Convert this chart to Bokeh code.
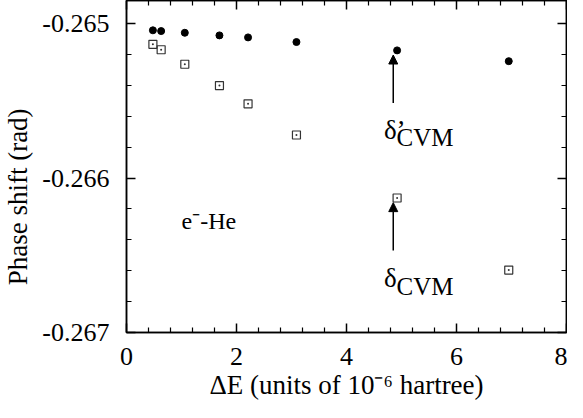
from bokeh.plotting import figure
from bokeh.models import (LinearAxis, FixedTicker, PrintfTickFormatter, Label,
                          Arrow, NormalHead, ColumnDataSource,
                          CustomJSTickFormatter)
from bokeh.embed import file_html
from bokeh.resources import INLINE

# ---- data ----
delta_E = [0.48, 0.63, 1.06, 1.69, 2.21, 3.09, 4.92, 6.95]
phase_cvm_prime = [-0.265043, -0.265048, -0.265059, -0.265076, -0.265089,
                   -0.265119, -0.265173, -0.265243]
phase_cvm = [-0.265134, -0.265169, -0.265263, -0.265401, -0.265519,
             -0.265721, -0.266129, -0.266596]

x_major = [0, 2, 4, 6, 8]
x_minor = [0.4, 0.8, 1.2, 1.6, 2.4, 2.8, 3.2, 3.6, 4.4, 4.8, 5.2, 5.6,
           6.4, 6.8, 7.2, 7.6]
y_major = [-0.267, -0.266, -0.265]
y_minor = [-0.2668, -0.2666, -0.2664, -0.2662, -0.2658, -0.2656, -0.2654,
           -0.2652, -0.2648]

x_title = "ΔE (units of 10⁻⁶ hartree)"
y_title = "Phase shift (rad)"
# trailing no-break spaces shift the centred vertical title toward the bottom
y_title_padded = y_title + "\u00a0" * 9

FONT = "Liberation Serif"

p = figure(width=567, height=402, output_backend="svg", toolbar_location=None,
           x_range=(0, 8), y_range=(-0.267, -0.26485),
           min_border_left=121, min_border_right=1, min_border_top=0,
           min_border_bottom=0)
p.xgrid.visible = False
p.ygrid.visible = False
p.outline_line_color = "black"
p.outline_line_width = 1.5
p.background_fill_color = "white"
p.border_fill_color = "white"

src_p = ColumnDataSource(dict(x=delta_E, y=phase_cvm_prime))
src_c = ColumnDataSource(dict(x=delta_E, y=phase_cvm))
p.scatter("x", "y", source=src_p, marker="circle", size=7,
          fill_color="black", line_color="black")
p.scatter("x", "y", source=src_c, marker="square_dot", size=8,
          fill_color=None, line_color="#333333", line_width=1.2)


def style_axis(ax, show_labels):
    ax.axis_line_color = "black"
    ax.axis_line_width = 1.5
    ax.major_tick_line_color = "black"
    ax.major_tick_line_width = 1.5
    ax.minor_tick_line_color = "black"
    ax.minor_tick_line_width = 1.2
    ax.major_tick_in = 9
    ax.major_tick_out = 0
    ax.minor_tick_in = 5
    ax.minor_tick_out = 0
    if show_labels:
        ax.major_label_text_font = FONT
        ax.major_label_text_font_size = "26px"
        ax.major_label_text_color = "black"
        ax.axis_label_text_font = FONT
        ax.axis_label_text_font_size = "27px"
        ax.axis_label_text_font_style = "normal"
        ax.axis_label_text_color = "black"
    else:
        ax.axis_label = None
        ax.formatter = CustomJSTickFormatter(code="return ''")
        ax.major_label_standoff = 0


xa = p.xaxis[0]
xa.ticker = FixedTicker(ticks=x_major, minor_ticks=x_minor)
xa.axis_label = x_title
xa.major_label_standoff = 15
xa.axis_label_standoff = 2
style_axis(xa, True)

ya = p.yaxis[0]
ya.ticker = FixedTicker(ticks=y_major, minor_ticks=y_minor)
ya.formatter = PrintfTickFormatter(format="%.3f")
ya.axis_label = y_title_padded
ya.major_label_standoff = 17
ya.axis_label_standoff = 6
style_axis(ya, True)

top_ax = LinearAxis(ticker=FixedTicker(ticks=x_major, minor_ticks=x_minor))
style_axis(top_ax, False)
p.add_layout(top_ax, "above")
right_ax = LinearAxis(ticker=FixedTicker(ticks=y_major, minor_ticks=y_minor))
style_axis(right_ax, False)
p.add_layout(right_ax, "right")

# ---- annotations ----
arrow_dx = 0.07
head_gap = 0.00003
arrow_len = 0.00031
i_arrow = 6
for series in (phase_cvm_prime, phase_cvm):
    ax_ = delta_E[i_arrow] - arrow_dx
    y_end = series[i_arrow] - head_gap
    p.add_layout(Arrow(end=NormalHead(size=9, fill_color="black",
                                      line_color="black", line_width=1),
                       x_start=ax_, y_start=y_end - arrow_len,
                       x_end=ax_, y_end=y_end,
                       line_color="black", line_width=1.5))

label_specs = [
    # text, x, y, size
    ("δ’", 4.68, -0.265686, "27px"),
    ("CVM", 4.91, -0.265738, "25px"),
    ("δ", 4.68, -0.26665, "27px"),
    ("CVM", 4.91, -0.2667, "25px"),
    ("e⁻-He", 1.0, -0.26628, "24px"),
]
for txt, lx, ly, fs in label_specs:
    p.add_layout(Label(x=lx, y=ly, text=txt, text_font=FONT,
                       text_font_size=fs, text_color="black",
                       text_baseline="alphabetic", text_align="left"))

open("out.html", "w").write(file_html(p, INLINE))
